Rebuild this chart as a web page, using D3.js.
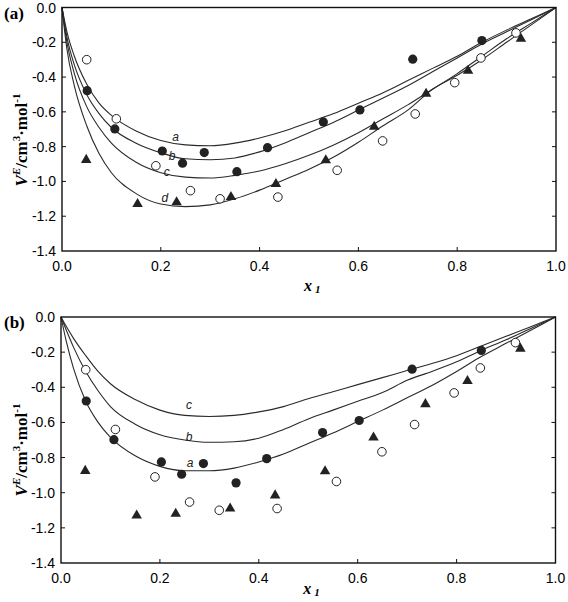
<!DOCTYPE html>
<html><head><meta charset="utf-8">
<script src="https://cdn.jsdelivr.net/npm/d3@7"></script>
<style>body{margin:0;background:#fff}svg{display:block}</style>
</head><body>
<script>
// ---- data ----
const xTicks = [0.0, 0.2, 0.4, 0.6, 0.8, 1.0];
const yTicks = [0.0, -0.2, -0.4, -0.6, -0.8, -1.0, -1.2, -1.4];

const openX = [0.05, 0.11, 0.19, 0.26, 0.32, 0.437, 0.557, 0.649, 0.715, 0.795, 0.848, 0.919];
const openY = [-0.30, -0.64, -0.91, -1.053, -1.10, -1.09, -0.936, -0.767, -0.612, -0.432, -0.29, -0.146];

const filledX = [0.051, 0.107, 0.203, 0.244, 0.288, 0.354, 0.416, 0.529, 0.603, 0.71, 0.85];
const filledY = [-0.478, -0.698, -0.825, -0.895, -0.834, -0.944, -0.806, -0.658, -0.589, -0.297, -0.19];

const triX = [0.049, 0.153, 0.232, 0.342, 0.433, 0.534, 0.632, 0.737, 0.822, 0.929];
const triY = [-0.876, -1.13, -1.12, -1.09, -1.015, -0.878, -0.686, -0.496, -0.364, -0.18];

const curveX = [0, 0.01, 0.025, 0.05, 0.075, 0.1, 0.15, 0.2, 0.25, 0.3, 0.35, 0.4, 0.45, 0.5, 0.55, 0.6, 0.65, 0.7, 0.75, 0.8, 0.85, 0.9, 0.95, 1];
// panel (a)
const aCurveA = [0, -0.14, -0.28, -0.44, -0.55, -0.62, -0.71, -0.765, -0.79, -0.795, -0.78, -0.75, -0.71, -0.66, -0.61, -0.55, -0.49, -0.42, -0.35, -0.28, -0.20, -0.13, -0.065, 0];
const aCurveB = [0, -0.17, -0.33, -0.50, -0.61, -0.69, -0.78, -0.835, -0.87, -0.875, -0.865, -0.83, -0.78, -0.72, -0.66, -0.59, -0.52, -0.45, -0.37, -0.29, -0.21, -0.14, -0.07, 0];
const aCurveC = [0, -0.20, -0.38, -0.57, -0.69, -0.78, -0.89, -0.95, -0.975, -0.98, -0.965, -0.94, -0.90, -0.85, -0.79, -0.72, -0.64, -0.56, -0.47, -0.38, -0.28, -0.18, -0.09, 0];
const aCurveD = [0, -0.24, -0.45, -0.68, -0.84, -0.95, -1.07, -1.13, -1.145, -1.135, -1.10, -1.05, -0.99, -0.93, -0.86, -0.775, -0.68, -0.59, -0.47, -0.39, -0.30, -0.20, -0.10, 0];
// panel (b)
const bCurveA = [0, -0.13, -0.29, -0.48, -0.60, -0.685, -0.79, -0.85, -0.875, -0.875, -0.86, -0.825, -0.78, -0.72, -0.66, -0.595, -0.53, -0.46, -0.39, -0.31, -0.225, -0.15, -0.075, 0];
const bCurveB = [0, -0.07, -0.17, -0.31, -0.42, -0.51, -0.61, -0.67, -0.70, -0.713, -0.71, -0.69, -0.64, -0.58, -0.53, -0.48, -0.43, -0.36, -0.31, -0.255, -0.19, -0.13, -0.065, 0];
const bCurveC = [0, -0.05, -0.12, -0.22, -0.31, -0.38, -0.47, -0.53, -0.56, -0.566, -0.56, -0.54, -0.51, -0.465, -0.425, -0.385, -0.345, -0.305, -0.265, -0.22, -0.165, -0.11, -0.055, 0];

const curveLabels = ["a", "b", "c", "d"];
const aLabelX = [0.23, 0.223, 0.212, 0.208];
const aLabelY = [-0.742, -0.853, -0.943, -1.096];
const bLabels = ["a", "b", "c"];
const bLabelX = [0.261, 0.259, 0.259];
const bLabelY = [-0.828, -0.68, -0.50];

// ---- drawing ----
const W = 568, H = 602;
const svg = d3.select("body").append("svg").attr("width", W).attr("height", H);

function panel(opts) {
  const {left, right, top, bottom, curves, labels, lx, ly, tag, yLabelCenter, xLabelY} = opts;
  const x = d3.scaleLinear().domain([0, 1]).range([left, right]);
  const y = d3.scaleLinear().domain([-1.4, 0]).range([bottom, top]);
  const g = svg.append("g");

  const line = d3.line().x(d => x(d[0])).y(d => y(d[1])).curve(d3.curveMonotoneX);
  curves.forEach(cy => {
    g.append("path").datum(curveX.map((v, i) => [v, cy[i]]))
      .attr("d", line).attr("fill", "none").attr("stroke", "#2a2a2a").attr("stroke-width", 1.1);
  });

  labels.forEach((t, i) => {
    g.append("text").attr("x", x(lx[i])).attr("y", y(ly[i])).attr("dy", "0.35em")
      .attr("text-anchor", "middle")
      .style("font-family", "'Liberation Sans', Arial, sans-serif").style("font-style", "italic")
      .style("font-size", "12px").attr("fill", "#222").text(t);
  });

  // markers
  g.selectAll(".open").data(openX.map((v, i) => [v, openY[i]])).join("circle")
    .attr("cx", d => x(d[0])).attr("cy", d => y(d[1])).attr("r", 4.3)
    .attr("fill", "#fff").attr("stroke", "#222").attr("stroke-width", 1);
  g.selectAll(".filled").data(filledX.map((v, i) => [v, filledY[i]])).join("circle")
    .attr("cx", d => x(d[0])).attr("cy", d => y(d[1])).attr("r", 4.6)
    .attr("fill", "#222");
  const tri = d3.symbol().type(d3.symbolTriangle).size(48);
  g.selectAll(".tri").data(triX.map((v, i) => [v, triY[i]])).join("path")
    .attr("transform", d => `translate(${x(d[0])},${y(d[1])})`).attr("d", tri).attr("fill", "#222");

  // frame
  g.append("rect").attr("x", left).attr("y", top).attr("width", right - left).attr("height", bottom - top)
    .attr("fill", "none").attr("stroke", "#111").attr("stroke-width", 1.4);

  // ticks (inward)
  const tickFont = "'Liberation Sans', Arial, sans-serif";
  xTicks.forEach(v => {
    if (v > 0 && v < 1) g.append("line").attr("x1", x(v)).attr("x2", x(v)).attr("y1", bottom).attr("y2", bottom - 4).attr("stroke", "#111");
    g.append("text").attr("x", x(v)).attr("y", bottom + 20).attr("text-anchor", "middle")
      .style("font-family", tickFont).style("font-size", "14px").text(d3.format(".1f")(v));
  });
  yTicks.forEach(v => {
    if (v < 0 && v > -1.4) {
      g.append("line").attr("x1", left).attr("x2", left + 4).attr("y1", y(v)).attr("y2", y(v)).attr("stroke", "#111");
      g.append("line").attr("x1", right).attr("x2", right - 4).attr("y1", y(v)).attr("y2", y(v)).attr("stroke", "#111");
    }
    g.append("text").attr("x", left - 6).attr("y", y(v)).attr("dy", "0.36em").attr("text-anchor", "end")
      .style("font-family", tickFont).style("font-size", "14px").text(d3.format(".1f")(v).replace("−", "-"));
  });

  // panel tag
  g.append("text").attr("x", 4).attr("y", top + 11)
    .style("font-family", "'Liberation Serif', 'Times New Roman', serif").style("font-weight", "bold")
    .style("font-size", "17px").text(tag);

  // x label
  const xl = g.append("text").attr("x", (left + right) / 2 - 5).attr("y", xLabelY)
    .style("font-family", "'Liberation Serif', 'Times New Roman', serif").style("font-weight", "bold")
    .style("font-style", "italic").style("font-size", "16px");
  xl.append("tspan").text("x");
  xl.append("tspan").attr("dx", 3).attr("dy", 2).style("font-size", "11px").text("1");

  // y label
  const yl = g.append("text").attr("transform", `translate(27,${yLabelCenter}) rotate(-90)`)
    .attr("text-anchor", "middle")
    .style("font-family", "'Liberation Serif', 'Times New Roman', serif").style("font-weight", "bold")
    .style("font-size", "17px");
  yl.append("tspan").style("font-style", "italic").text("V");
  yl.append("tspan").attr("dy", -7).style("font-size", "11px").style("font-style", "italic").text("E");
  yl.append("tspan").attr("dy", 7).text("/cm");
  yl.append("tspan").attr("dy", -7).style("font-size", "11px").text("3");
  yl.append("tspan").attr("dy", 7).text("·mol");
  yl.append("tspan").attr("dy", -7).style("font-size", "11px").text("-1");
}

panel({left: 62, right: 556, top: 7.5, bottom: 251,
  curves: [aCurveA, aCurveB, aCurveC, aCurveD], labels: curveLabels, lx: aLabelX, ly: aLabelY,
  tag: "(a)", yLabelCenter: 140, xLabelY: 291});
panel({left: 61, right: 555.5, top: 317, bottom: 563,
  curves: [bCurveA, bCurveB, bCurveC], labels: bLabels, lx: bLabelX, ly: bLabelY,
  tag: "(b)", yLabelCenter: 450, xLabelY: 594});
</script>
</body></html>
